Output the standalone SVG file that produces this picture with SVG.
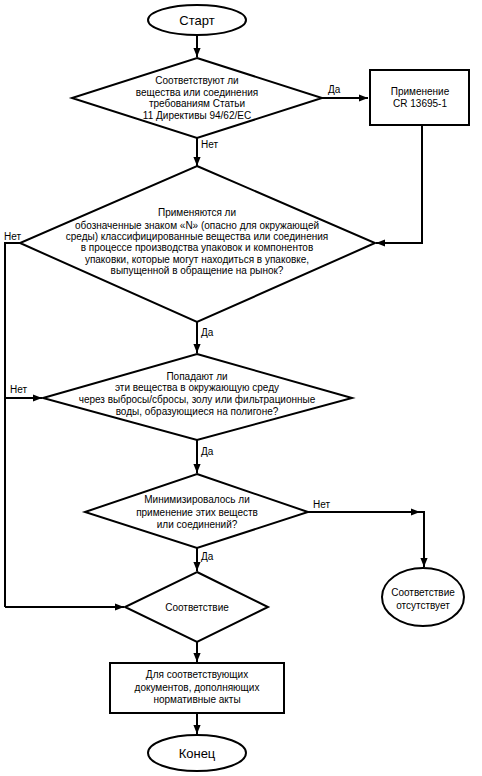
<svg xmlns="http://www.w3.org/2000/svg" width="482" height="776" viewBox="0 0 482 776">
<defs>
<marker id="ah" viewBox="0 0 10 10" refX="10" refY="5" markerWidth="4.5" markerHeight="4.5" orient="auto" markerUnits="strokeWidth">
<path d="M0,1 L10,5 L0,9 z" fill="#000"/>
</marker>
<style>
.s{fill:#fff;stroke:#000;stroke-width:2}
.c{fill:none;stroke:#000;stroke-width:2}
.a{marker-end:url(#ah)}
text{font-family:"Liberation Sans",Arial,sans-serif;font-size:10px;fill:#000;text-anchor:middle}
.big{font-size:13px}
.lbl{text-anchor:start}
</style>
</defs>
<rect width="482" height="776" fill="#fff"/>
<g id="connectors">
<path class="c a" d="M197,36 V57"/>
<path class="c a" d="M322,98 H368"/>
<path class="c a" d="M197,138 V166"/>
<path class="c a" d="M422,125 V243 H376"/>
<path class="c" d="M22,243 H5 V607"/>
<path class="c a" d="M5,398 H42"/>
<path class="c a" d="M5,607 H124"/>
<path class="c a" d="M197,322 V353"/>
<path class="c a" d="M197,440 V473"/>
<path class="c a" d="M308,512 H420"/>
<path class="c a" d="M420,512 H424 V567"/>
<path class="c a" d="M197,548 V571"/>
<path class="c a" d="M197,642 V662"/>
<path class="c a" d="M197,713 V734"/>
<text class="lbl" x="328" y="93">Да</text>
<text class="lbl" x="201" y="148">Нет</text>
<text class="lbl" x="4" y="240">Нет</text>
<text class="lbl" x="201" y="336">Да</text>
<text class="lbl" x="10" y="393">Нет</text>
<text class="lbl" x="201" y="455">Да</text>
<text class="lbl" x="313" y="508">Нет</text>
<text class="lbl" x="201" y="560">Да</text>
</g>
<g id="start">
<ellipse class="s" cx="197" cy="20" rx="49" ry="15"/>
<text class="big" x="197" y="25">Старт</text>
</g>
<g id="d1">
<polygon class="s" points="197,58 322,98 197,138 72,98"/>
<text x="197" y="84">Соответствуют ли</text>
<text x="197" y="96">вещества или соединения</text>
<text x="197" y="107">требованиям Статьи</text>
<text x="197" y="119">11 Директивы 94/62/ЕС</text>
</g>
<g id="b1">
<rect class="s" x="370" y="70" width="99" height="55"/>
<text x="420" y="95">Применение</text>
<text x="420" y="107">CR 13695-1</text>
</g>
<g id="d2">
<polygon class="s" points="197,166 375,243 197,322 20,243"/>
<text x="197" y="216">Применяются ли</text>
<text x="197" y="229">обозначенные знаком «N» (опасно для окружающей</text>
<text x="197" y="240">среды) классифицированные вещества или соединения</text>
<text x="197" y="251">в процессе производства упаковок и компонентов</text>
<text x="197" y="263">упаковки, которые могут находиться в упаковке,</text>
<text x="197" y="274">выпущенной в обращение на рынок?</text>
</g>
<g id="d3">
<polygon class="s" points="197,354 352,398 197,440 43,398"/>
<text x="197" y="380">Попадают ли</text>
<text x="197" y="391">эти вещества в окружающую среду</text>
<text x="197" y="403">через выбросы/сбросы, золу или фильтрационные</text>
<text x="197" y="415">воды, образующиеся на полигоне?</text>
</g>
<g id="d4">
<polygon class="s" points="197,474 308,512 197,548 85,512"/>
<text x="197" y="503">Минимизировалось ли</text>
<text x="197" y="516">применение этих веществ</text>
<text x="197" y="528">или соединений?</text>
</g>
<g id="nocomp">
<ellipse class="s" cx="423" cy="597" rx="41" ry="29"/>
<text x="423" y="596">Соответствие</text>
<text x="423" y="609">отсутствует</text>
</g>
<g id="d5">
<polygon class="s" points="197,572 268,607 197,642 125,607"/>
<text x="197" y="611">Соответствие</text>
</g>
<g id="b2">
<rect class="s" x="110" y="663" width="174" height="50"/>
<text x="197" y="678">Для соответствующих</text>
<text x="197" y="691">документов, дополняющих</text>
<text x="197" y="703">нормативные акты</text>
</g>
<g id="end">
<ellipse class="s" cx="197" cy="753" rx="49" ry="18"/>
<text class="big" x="197" y="758">Конец</text>
</g>
</svg>
